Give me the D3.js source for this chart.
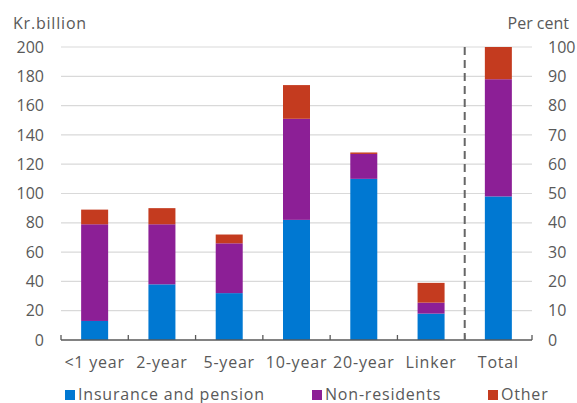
<!DOCTYPE html>
<html>
<head>
<meta charset="utf-8">
<script src="https://cdn.jsdelivr.net/npm/d3@7"></script>
<style>
  body { margin: 0; background: #fff; }
  svg text { font-family: "Open Sans", sans-serif; fill: #595959; }
  .wide { letter-spacing: 0.8px; }
</style>
</head>
<body>
<svg id="chart"></svg>
<script>
// categories and values (Kr. billion, Total in per cent)
const categories = ['<1 year', '2-year', '5-year', '10-year', '20-year', 'Linker', 'Total'];
const insurance = [13, 38, 32, 82, 110, 18, 49];
const nonResidents = [66, 41, 34, 69, 17, 7.5, 40];
const other = [10, 11, 6, 23, 1, 13.5, 11];
const leftTicks = [0, 20, 40, 60, 80, 100, 120, 140, 160, 180, 200];
const rightTicks = [0, 10, 20, 30, 40, 50, 60, 70, 80, 90, 100];
const seriesNames = ['Insurance and pension', 'Non-residents', 'Other'];
const colors = ['#0078D2', '#8C1F96', '#C43B1F'];

const [w, h] = [577, 403];
const margin = {top: 47, right: 45, bottom: 63, left: 61};

const svg = d3.select('#chart').attr('width', w).attr('height', h);

const x = d3.scaleBand().domain(categories).range([margin.left, w - margin.right]);
const yLeft = d3.scaleLinear().domain([0, 200]).range([h - margin.bottom, margin.top]);
const yRight = d3.scaleLinear().domain([0, 100]).range([h - margin.bottom, margin.top]);

// gridlines
svg.append('g').selectAll('line').data(leftTicks.slice(1)).enter().append('line')
  .attr('x1', margin.left).attr('x2', w - margin.right)
  .attr('y1', d => yLeft(d)).attr('y2', d => yLeft(d))
  .attr('stroke', '#d9d9d9').attr('stroke-width', 1.2);

// stacked data
const table = categories.map((c, i) => ({cat: c, ins: insurance[i], non: nonResidents[i], oth: other[i]}));
const stack = d3.stack().keys(['ins', 'non', 'oth'])(table);

const barW = 27;
stack.forEach((layer, k) => {
  svg.append('g').selectAll('rect').data(layer).enter().append('rect')
    .attr('x', d => x(d.data.cat) + x.bandwidth() / 2 - barW / 2)
    .attr('width', barW)
    .attr('y', d => (d.data.cat === 'Total' ? yRight : yLeft)(d[1]))
    .attr('height', d => {
      const s = d.data.cat === 'Total' ? yRight : yLeft;
      return s(d[0]) - s(d[1]);
    })
    .attr('fill', colors[k]);
});

// x axis
const xAxis = svg.append('g').attr('transform', `translate(0, ${h - margin.bottom})`);
xAxis.append('line').attr('x1', margin.left).attr('x2', w - margin.right)
  .attr('stroke', '#595959').attr('stroke-width', 1.3);
const tickPos = categories.map(c => x(c)).concat([w - margin.right]);
xAxis.selectAll('.tk').data(tickPos).enter().append('line')
  .attr('x1', d => d).attr('x2', d => d).attr('y1', 0).attr('y2', -5)
  .attr('stroke', '#595959').attr('stroke-width', 1.3);
xAxis.selectAll('text').data(categories).enter().append('text')
  .attr('class', 'wide')
  .attr('x', d => x(d) + x.bandwidth() / 2).attr('y', 28)
  .attr('text-anchor', 'middle').attr('font-size', 16).text(d => d);

// left axis labels
svg.append('g').selectAll('text').data(leftTicks).enter().append('text')
  .attr('x', 44).attr('y', d => yLeft(d)).attr('dy', '0.35em')
  .attr('text-anchor', 'end').attr('font-size', 16).text(d => d);

// right axis labels
svg.append('g').selectAll('text').data(rightTicks).enter().append('text')
  .attr('x', 548).attr('y', d => yRight(d)).attr('dy', '0.35em')
  .attr('text-anchor', 'start').attr('font-size', 16).text(d => d);

svg.append('text').attr('class', 'wide').attr('x', 13).attr('y', 29).attr('font-size', 16).text('Kr.billion');
svg.append('text').attr('x', 569).attr('y', 29).attr('text-anchor', 'end').attr('font-size', 16).text('Per cent');

// dashed separator before Total
svg.append('line')
  .attr('x1', x('Total')).attr('x2', x('Total'))
  .attr('y1', margin.top).attr('y2', h - margin.bottom)
  .attr('stroke', '#666').attr('stroke-width', 2).attr('stroke-dasharray', '8,5');

// legend
const legendX = [65, 312, 488];
const legend = svg.append('g');
seriesNames.forEach((name, i) => {
  legend.append('rect').attr('x', legendX[i]).attr('y', 390).attr('width', 10).attr('height', 10).attr('fill', colors[i]);
  legend.append('text').attr('class', 'wide').attr('x', legendX[i] + 13).attr('y', 394).attr('dy', '0.35em')
    .attr('font-size', 16).text(name);
});
</script>
</body>
</html>
